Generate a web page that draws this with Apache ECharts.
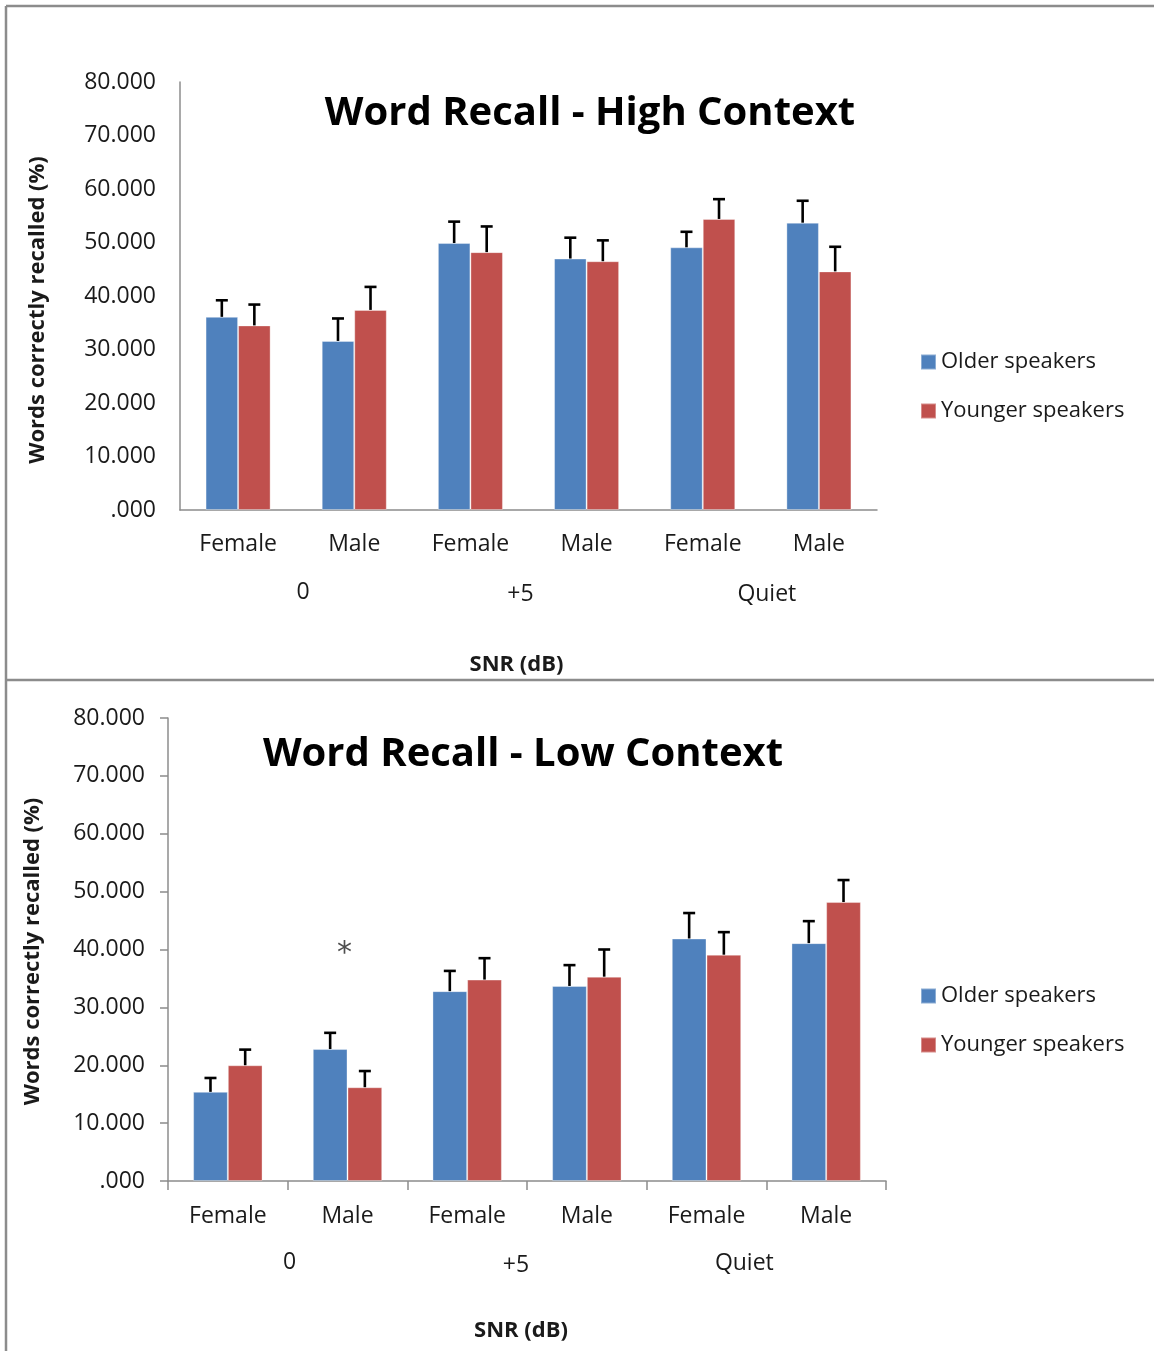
<!DOCTYPE html>
<html>
<head>
<meta charset="utf-8">
<script src="https://cdn.jsdelivr.net/npm/echarts@6/dist/echarts.min.js"></script>
<style>
html,body{margin:0;padding:0;background:#fff;}
#chart{width:1154px;height:1351px;}
</style>
</head>
<body>
<div id="chart"></div>
<script>
// ---- data ----
const categories = ['Female', 'Male', 'Female', 'Male', 'Female', 'Male'];
const groups = ['0', '+5', 'Quiet'];
const seriesNames = ['Older speakers', 'Younger speakers'];
const yTicks = [0, 10, 20, 30, 40, 50, 60, 70, 80];

const highOlder = [36.1, 31.6, 49.9, 47.0, 49.1, 53.7];
const highOlderErr = [3.1, 4.2, 4.0, 3.9, 2.9, 4.1];
const highYounger = [34.5, 37.4, 48.2, 46.5, 54.4, 44.6];
const highYoungerErr = [3.9, 4.3, 4.8, 3.9, 3.7, 4.6];

const lowOlder = [15.4, 22.8, 32.8, 33.7, 41.9, 41.1];
const lowOlderErr = [2.4, 2.8, 3.5, 3.6, 4.4, 3.8];
const lowYounger = [20.0, 16.2, 34.8, 35.3, 39.1, 48.2];
const lowYoungerErr = [2.7, 2.8, 3.7, 4.7, 3.9, 3.8];

const lowAsterisk = [[1, 40.2]];

// ---- styling ----
const FONT = 'Open Sans';
const BLUE = '#4F81BD';
const RED = '#C0504D';
const AXIS_GREY = '#8c8c8c';
const TXT = '#1a1a1a';
const GAP = [0.44, 0.42];

function errSeries(vals, errs, side, gi, gap) {
  return {
    type: 'custom',
    xAxisIndex: gi * 2, yAxisIndex: gi, z: 5,
    silent: true,
    data: vals.map((v, i) => [i, v, errs[i]]),
    renderItem: function (params, api) {
      const i = api.value(0), v = api.value(1), e = api.value(2);
      const base = api.coord([i, v]);
      const top = api.coord([i, v + e]);
      const band = api.size([1, 0])[0];
      const barW = band * (1 - gap) / 2;
      const x = base[0] + side * barW / 2;
      const cap = 6;
      const st = { stroke: '#000', lineWidth: 2.6 };
      return {
        type: 'group',
        children: [
          { type: 'line', shape: { x1: x, y1: base[1], x2: x, y2: top[1] }, style: st },
          { type: 'line', shape: { x1: x - cap, y1: top[1], x2: x + cap, y2: top[1] }, style: st }
        ]
      };
    }
  };
}

function yAxisCfg(gi, showTicks, nameGap, labelMargin, namePad) {
  return {
    type: 'value', gridIndex: gi, min: 0, max: 80, interval: 10,
    name: 'Words correctly recalled (%)', nameLocation: 'middle', nameGap: nameGap,
    nameTextStyle: { fontFamily: FONT, fontWeight: 'bold', fontSize: 22, color: TXT, padding: namePad },
    axisLine: { show: true, lineStyle: { color: AXIS_GREY, width: 1.5 } },
    axisTick: { show: showTicks, length: 8, lineStyle: { color: AXIS_GREY, width: 1.5 } },
    splitLine: { show: false },
    axisLabel: {
      fontFamily: FONT, fontSize: 23, color: TXT, margin: labelMargin,
      formatter: v => (yTicks.indexOf(v) >= 0 ? (v === 0 ? '.000' : v.toFixed(3)) : '')
    }
  };
}

function catAxisCfg(gi, showTicks, labelMargin, nameGap, namePad) {
  return {
    type: 'category', gridIndex: gi, data: categories, position: 'bottom',
    name: 'SNR (dB)', nameLocation: 'middle', nameGap: nameGap,
    nameTextStyle: { fontFamily: FONT, fontWeight: 'bold', fontSize: 22, color: TXT, padding: namePad },
    axisLine: { show: true, lineStyle: { color: AXIS_GREY, width: 1.5 } },
    axisTick: { show: showTicks, length: 9, lineStyle: { color: AXIS_GREY, width: 1.5 } },
    axisLabel: { fontFamily: FONT, fontSize: 23, color: TXT, margin: labelMargin, lineHeight: 26 }
  };
}

function groupAxisCfg(gi, labelMargin, pads) {
  const rich = {};
  pads.forEach((p, k) => {
    rich['g' + k] = { fontFamily: FONT, fontSize: 23, color: TXT, lineHeight: 26, padding: p };
  });
  return {
    type: 'category', gridIndex: gi, data: groups, position: 'bottom',
    axisLine: { show: false }, axisTick: { show: false },
    axisLabel: {
      margin: labelMargin,
      formatter: (v, idx) => '{g' + idx + '|' + v + '}',
      rich: rich
    }
  };
}

function barSeries(name, vals, color, gi, gap) {
  return {
    type: 'bar', name: name, xAxisIndex: gi * 2, yAxisIndex: gi,
    data: vals, barGap: '0%', barCategoryGap: (gap * 100) + '%',
    itemStyle: { color: color, borderColor: 'rgba(255,255,255,0.35)', borderWidth: 1 }
  };
}

const option = {
  backgroundColor: '#fff',
  animation: false,
  title: [
    { text: 'Word Recall - High Context', left: 585, top: 89, textAlign: 'center',
      textStyle: { fontFamily: FONT, fontWeight: 'bold', fontSize: 40, color: '#000' } },
    { text: 'Word Recall - Low Context', left: 518, top: 730, textAlign: 'center',
      textStyle: { fontFamily: FONT, fontWeight: 'bold', fontSize: 40, color: '#000' } }
  ],
  legend: [
    { data: seriesNames, orient: 'vertical', left: 915, top: 346, itemGap: 27,
      icon: 'rect', itemWidth: 15, itemHeight: 15,
      textStyle: { fontFamily: FONT, fontSize: 22, color: TXT } },
    { data: seriesNames, orient: 'vertical', left: 915, top: 980, itemGap: 27,
      icon: 'rect', itemWidth: 15, itemHeight: 15,
      textStyle: { fontFamily: FONT, fontSize: 22, color: TXT } }
  ],
  grid: [
    { left: 180, right: 277, top: 82, height: 428 },
    { left: 168, right: 268, top: 718, height: 463 }
  ],
  xAxis: [
    catAxisCfg(0, false, 21, 138, [6, 24, 0, 0]),
    groupAxisCfg(0, 69, [[0, 0, 0, 14], [4, 16, 0, 0], [4, 0, 0, 12]]),
    catAxisCfg(1, true, 22, 133, [6, 12, 0, 0]),
    groupAxisCfg(1, 68, [[0, 0, 0, 4], [6, 22, 0, 0], [3, 44, 0, 0]])
  ],
  yAxis: [
    yAxisCfg(0, false, 131, 24, [0, 28, 0, 0]),
    yAxisCfg(1, true, 124, 23, [0, 4, 0, 0])
  ],
  series: [
    barSeries(seriesNames[0], highOlder, BLUE, 0, GAP[0]),
    barSeries(seriesNames[1], highYounger, RED, 0, GAP[0]),
    errSeries(highOlder, highOlderErr, -1, 0, GAP[0]),
    errSeries(highYounger, highYoungerErr, 1, 0, GAP[0]),
    barSeries(seriesNames[0], lowOlder, BLUE, 1, GAP[1]),
    barSeries(seriesNames[1], lowYounger, RED, 1, GAP[1]),
    errSeries(lowOlder, lowOlderErr, -1, 1, GAP[1]),
    errSeries(lowYounger, lowYoungerErr, 1, 1, GAP[1]),
    {
      type: 'scatter', xAxisIndex: 2, yAxisIndex: 1, silent: true,
      data: lowAsterisk, symbolSize: 1, itemStyle: { color: 'rgba(0,0,0,0)' },
      label: { show: true, position: 'inside', formatter: '*', offset: [-3, 6],
        fontFamily: 'DejaVu Sans', fontSize: 30, color: '#222' }
    }
  ],
  graphic: [
    { type: 'line', shape: { x1: 6, y1: 6, x2: 1154, y2: 6 }, style: { stroke: AXIS_GREY, lineWidth: 2.5 } },
    { type: 'line', shape: { x1: 6, y1: 6, x2: 6, y2: 1351 }, style: { stroke: AXIS_GREY, lineWidth: 2.5 } },
    { type: 'line', shape: { x1: 6, y1: 680, x2: 1154, y2: 680 }, style: { stroke: AXIS_GREY, lineWidth: 2.5 } }
  ]
};

const chart = echarts.init(document.getElementById('chart'));
chart.setOption(option);
</script>
</body>
</html>
